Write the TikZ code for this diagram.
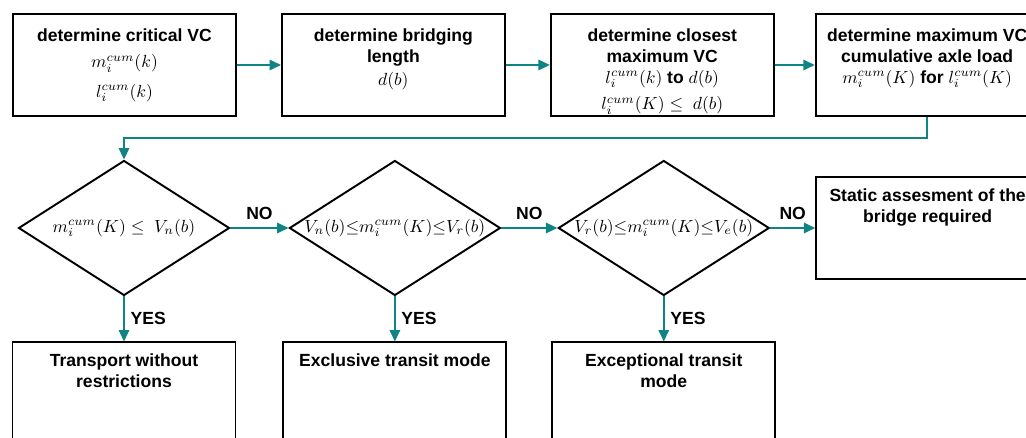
\documentclass[tikz,border=0pt]{standalone}
\usepackage{fontspec}
\setmainfont{Liberation Sans}
\usepackage{amsmath}
\usetikzlibrary{positioning,arrows.meta,shapes.geometric}
\definecolor{flowteal}{RGB}{16,132,132}
\tikzset{
  stepbox/.style={rectangle, draw, line width=1.1pt, minimum width=4.46cm, minimum height=2.04cm},
  boxtext/.style={font=\bfseries, align=center, inner sep=0pt},
  decision/.style={diamond, draw, line width=1.1pt, minimum width=4.22cm, minimum height=2.7cm, inner sep=0pt},
  flow/.style={-{Triangle[length=6.5pt,width=6pt]}, flowteal, line width=0.85pt},
  answer/.style={font=\bfseries, text=black},
}

\begin{document}
\begin{tikzpicture}[x=0.02cm, y=-0.02cm]
  \useasboundingbox (0,0) rectangle (1026,438);

  % top row
  \node[stepbox] (crit) at (124.5,65) {};
  \node[stepbox] (bridge) [right=0.88cm of crit] {};
  \node[stepbox] (closest) [right=0.88cm of bridge] {};
  \node[stepbox] (maxvc) [right=0.8cm of closest] {};

  \node[boxtext, below=0.3cm of crit.north] (crittxt) {determine critical VC\\[3pt]
    $m_i^{cum}(k)$\\[5pt] $l_i^{cum}(k)$};
  \node[boxtext, below=0.3cm of bridge.north] (bridgetxt) {determine bridging\\ length\\[1pt]
    $d(b)$};
  \node[boxtext, below=0.3cm of closest.north] (closesttxt) {determine closest\\ maximum VC\\
    $l_i^{cum}(k)$ to $d(b)$\\[3pt] $l_i^{cum}(K) \leq\; d(b)$};
  \node[boxtext, below=0.3cm of maxvc.north] (maxvctxt) {determine maximum VC\\ cumulative axle load\\
    $m_i^{cum}(K)$ for $l_i^{cum}(K)$};

  % decisions
  \node[decision] (q1) at (124,228) {};
  \node[decision] (q2) [right=1.16cm of q1] {};
  \node[decision] (q3) [right=1.12cm of q2] {};
  \node[stepbox] (static) [right=0.9cm of q3] {};

  \node[inner sep=0pt] (q1txt) at (q1) {$m_i^{cum}(K) \leq\; V_n(b)$};
  \node[inner sep=0pt] (q2txt) at (q2) {$V_n(b){\leq}m_i^{cum}(K){\leq}V_r(b)$};
  \node[inner sep=0pt] (q3txt) at (q3) {$V_r(b){\leq}m_i^{cum}(K){\leq}V_e(b)$};
  \node[boxtext, below=0.24cm of static.north] (statictxt) {Static assesment of the\\ bridge required};

  % results
  \node[stepbox] (free) [below=0.9cm of q1] {};
  \node[stepbox] (excl) [below=0.9cm of q2] {};
  \node[stepbox] (excp) [below=0.9cm of q3] {};

  \node[boxtext, below=0.24cm of free.north] (freetxt) {Transport without\\ restrictions};
  \node[boxtext, below=0.24cm of excl.north] (excltxt) {Exclusive transit mode};
  \node[boxtext, below=0.24cm of excp.north] (excptxt) {Exceptional transit\\ mode};

  % connectors
  \draw[flow] (crit) -- (bridge);
  \draw[flow] (bridge) -- (closest);
  \draw[flow] (closest) -- (maxvc);
  \draw[flow] (maxvc.south) -- ++(0,21) -| (q1.north);

  \draw[flow] (q1) -- (q2) node[answer, midway, above, yshift=1pt] (no1) {NO};
  \draw[flow] (q2) -- (q3) node[answer, midway, above, yshift=1pt] (no2) {NO};
  \draw[flow] (q3) -- (static) node[answer, midway, above, yshift=1pt] (no3) {NO};

  \draw[flow] (q1) -- (free) node[answer, midway, right] (yes1) {YES};
  \draw[flow] (q2) -- (excl) node[answer, midway, right] (yes2) {YES};
  \draw[flow] (q3) -- (excp) node[answer, midway, right] (yes3) {YES};
\end{tikzpicture}
\end{document}
